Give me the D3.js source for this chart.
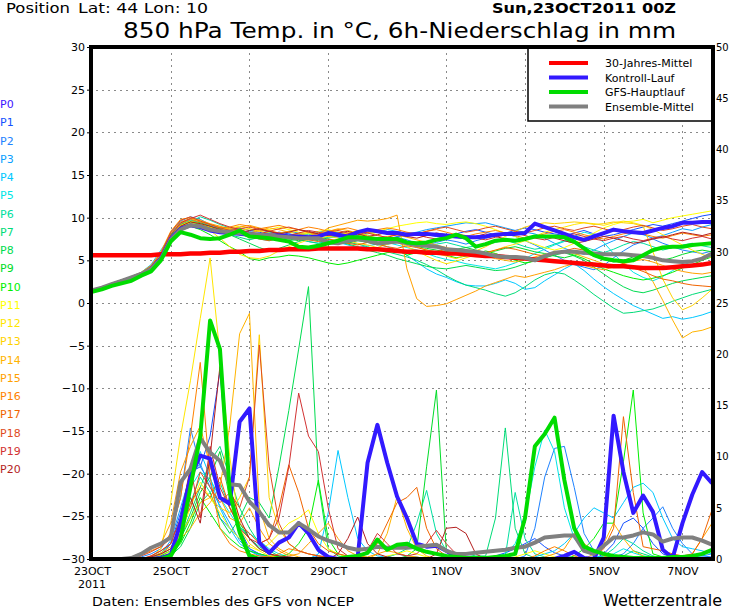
<!DOCTYPE html>
<html><head><meta charset="utf-8">
<script src="https://cdnjs.cloudflare.com/ajax/libs/d3/7.8.5/d3.min.js"></script>
<style>body{margin:0;background:#fff}svg{display:block}</style>
</head><body><svg id="c" width="730" height="609"></svg>
<script>
// ---------- DATA ----------
const hours = d3.range(0, 379, 6); // 6-hourly steps from 23OCT2011 00Z
const tempTicks = [-30,-25,-20,-15,-10,-5,0,5,10,15,20,25,30];
const precipTicks = [0,5,10,15,20,25,30,35,40,45,50];
const dateTickHours = [0,48,96,144,216,264,312,360];
const dateTickLabels = ["23OCT","25OCT","27OCT","29OCT","1NOV","3NOV","5NOV","7NOV"];
const gridHours = [48,96,144,216,264,312,360];
const memberNames = ["P0","P1","P2","P3","P4","P5","P6","P7","P8","P9","P10","P11","P12","P13","P14","P15","P16","P17","P18","P19","P20"];
const memberColors = ["#3c14ff","#1450ff","#1e82ff","#0aa0ff","#00c8ff","#00e6e6","#00e0a0","#00dc78","#00dc50","#00dc28","#00f000","#ffff00","#ffe600","#ffd200","#ffb400","#ffa000","#ff8200","#f06400","#e04b1e","#d23232","#b41e1e"];
const legendLabels = ["30-Jahres-Mittel","Kontroll-Lauf","GFS-Hauptlauf","Ensemble-Mittel"];
const legendColors = ["#ff0000","#3219ff","#00dc00","#808080"];

const climTemp = [5.6,5.6,5.6,5.6,5.6,5.6,5.6,5.7, 5.7,5.7,5.8,5.8,5.9,5.9,6.0,6.0, 6.1,6.1,6.2,6.2,6.3,6.3,6.3,6.4, 6.4,6.4,6.4,6.4,6.3,6.3,6.2,6.1, 6.0,6.0,5.9,5.9,5.8,5.8,5.7,5.6, 5.5,5.5,5.4,5.3,5.2,5.1,5.0,4.9, 4.8,4.7,4.6,4.5,4.4,4.3,4.3,4.2, 4.1,4.1,4.1,4.2,4.3,4.4,4.5,4.7];
const ctrlTemp = [1.4,1.7,2.1,2.5,2.9,3.3,4.0,5.2, 7.5,8.7,9.1,8.9,8.5,8.3,8.2,8.1, 8.0,8.0,7.9,7.9,7.8,7.8,7.7,7.8, 8.2,8.0,7.8,8.3,8.6,8.4,8.2,8.2, 8.0,8.1,8.1,8.0,7.9,7.8,7.7,7.7, 7.8,8.0,8.1,8.1,8.2,9.3,8.9,8.5, 8.1,7.7,7.4,7.8,8.2,8.6,8.4,8.3, 8.2,8.5,8.8,9.0,9.4,9.4,9.5,9.5];
const ctrlPrecip = [0,0,0,0,0,0,0,0.1, 0.4,3.5,8.0,10.1,9.8,6.0,5.4,13.4, 14.7,1.6,0.6,1.6,2.1,3.5,2.5,0.9, 0.2,0,0,0.2,9.4,13.1,9.4,6.1, 4.0,1.5,1.2,1.3,0.8,0.2,0,0, 0,0,0,0,0,0,0,0, 0.3,0.7,0.1,0,2.1,14.0,8.5,4.5, 6.2,4.6,0.9,0.1,3.5,6.3,8.5,7.4];
const gfsTemp = [1.3,1.6,2.0,2.3,2.6,3.2,3.7,5.0, 7.2,8.3,8.0,7.6,7.5,7.6,8.0,8.5, 7.8,7.7,7.6,7.4,7.2,6.6,6.5,6.7, 7.0,7.3,7.7,7.7,7.6,7.5,7.5,7.5, 7.1,7.0,7.1,7.4,7.6,8.0,7.6,6.6, 6.9,7.3,7.4,7.3,7.5,7.8,7.8,7.8, 7.7,7.2,6.4,5.6,5.2,5.0,4.9,5.0, 5.6,6.2,6.5,6.6,6.6,6.8,6.9,7.0];
const gfsPrecip = [0,0,0,0,0,0,0,0, 0.3,2.0,7.0,12.0,23.3,20.5,6.5,2.6, 0.3,0,0,0,0,0,0,0, 0,0,0.2,0.3,0.6,1.9,0.9,1.4, 1.5,1.0,0.7,0.5,0.3,0.2,0.1,0.1, 0.1,0.2,0.3,0.5,4.0,11.0,12.2,13.8, 7.7,3.0,1.2,0.8,0.5,0.3,0.2,0.1, 0.1,0.1,0.1,0.2,0.2,0.3,0.5,0.9];
const meanTemp = [1.5,1.8,2.2,2.6,3.0,3.4,4.0,5.1, 7.4,8.6,9.1,9.0,8.6,8.4,8.3,8.2, 8.1,8.0,7.9,7.8,7.7,7.6,7.6,7.6, 7.1,7.0,7.3,7.5,7.3,7.0,7.1,7.2, 7.0,6.8,6.7,6.6,6.3,6.2,6.1,6.0, 5.8,5.5,5.4,5.4,5.3,5.0,5.5,5.9, 6.0,6.0,5.9,5.8,5.7,5.7,5.7,5.6, 5.5,5.3,5.0,4.9,4.8,4.9,5.2,5.8];
const meanPrecip = [0,0,0,0,0.1,0.5,1.1,1.5, 2.1,7.5,8.8,11.8,10.4,9.6,7.3,7.2, 5.6,4.6,3.3,2.6,2.6,3.5,2.9,2.2, 1.8,1.5,1.1,0.9,1.0,1.2,1.1,1.1, 1.1,1.2,1.3,1.4,0.8,0.5,0.5,0.6, 0.7,0.8,0.9,1.1,1.2,1.6,2.1,2.2, 2.3,2.3,0.8,0.5,1.3,2.1,2.1,2.3, 2.6,2.4,1.7,2.0,2.1,2.1,1.8,1.4];

// thin members P1..P20 (temperature, °C)
const memberTemp = [
[1.4,1.7,2.1,2.5,2.9,3.3,4.0,5.3, 7.8,9.2,9.6,9.3,9.0,8.7,8.6,8.8, 8.5,8.3,8.0,8.3,8.1,7.9,8.2,8.0, 8.1,8.3,8.0,7.9,8.2,8.4,8.1,7.8, 7.9,8.2,8.0,7.8,7.6,8.1,8.4,8.6, 8.3,8.0,8.2,8.5,8.8,8.6,8.3,8.1, 7.9,8.2,8.5,8.1,7.8,8.0,8.3,8.6, 8.9,9.2,9.0,9.3,9.6,9.9,10.2,10.4],
[1.5,1.8,2.2,2.6,3.0,3.5,4.3,5.8, 8.2,9.6,10.1,9.8,9.2,8.8,8.5,8.4, 8.2,8.0,7.7,7.9,8.1,7.8,7.6,7.9, 8.0,7.7,7.5,7.8,7.6,7.3,7.5,7.7, 7.4,7.0,6.8,7.1,7.4,7.2,6.9,7.3, 7.6,7.9,8.1,7.8,7.3,6.8,6.2,5.6, 5.0,4.5,4.2,3.9,4.4,5.3,6.1,6.8, 7.2,7.5,7.0,6.6,6.2,6.0,5.8,6.1],
[1.3,1.6,2.0,2.4,2.7,3.1,3.8,4.9, 7.2,8.6,9.1,9.0,8.7,8.9,8.6,8.2, 8.4,8.6,8.3,8.1,8.4,8.2,8.0,8.3, 8.5,8.2,8.0,7.8,8.1,8.3,8.6,8.4, 8.1,8.3,8.6,8.8,9.0,9.2,9.4,9.3, 9.4,9.1,8.8,8.5,8.3,8.1,7.6,7.0, 6.4,6.0,5.7,6.2,6.8,7.3,7.8,8.2, 8.0,7.6,7.9,8.3,8.7,8.5,8.9,9.2],
[1.4,1.8,2.3,2.7,3.1,3.6,4.5,6.2, 7.9,9.3,9.8,9.4,9.0,8.6,8.2,8.0, 7.8,7.5,7.3,7.6,7.8,7.5,7.2,7.0, 7.3,7.1,6.8,6.5,6.7,6.9,6.6,6.2, 5.6,4.8,4.0,3.4,3.0,2.5,2.1,2.0, 2.0,2.3,2.7,2.3,1.6,1.8,2.6,3.3, 4.0,4.6,3.8,2.8,1.9,1.1,0.4,-0.3, -0.8,-1.3,-1.8,-1.6,-1.9,-1.7,-1.4,-1.0],
[1.5,1.8,2.2,2.6,3.0,3.4,4.2,5.6, 8.0,9.4,9.7,9.5,9.1,8.8,8.4,8.1, 7.9,8.1,8.3,8.0,7.7,7.9,8.1,7.8, 7.6,7.8,7.5,7.3,7.6,7.4,7.1,6.8, 6.5,6.2,5.8,5.4,5.1,4.9,4.6,4.4, 4.2,4.0,4.3,4.7,5.2,5.8,6.3,6.8, 7.2,7.8,8.3,8.0,7.1,5.8,4.6,3.6, 3.0,2.6,3.1,3.8,4.4,4.9,5.2,5.5],
[1.4,1.7,2.1,2.5,2.8,3.2,3.9,5.0, 7.5,8.9,9.5,10.1,9.7,9.2,8.8,8.5, 8.2,8.0,7.8,7.6,7.9,8.1,7.8,7.5, 7.7,7.9,7.6,7.4,7.2,7.5,7.7,7.4, 7.2,7.0,6.7,6.9,7.1,6.8,6.5,6.7, 6.9,7.1,7.4,7.0,6.6,6.3,6.5,6.9, 7.3,7.0,6.6,6.2,5.9,6.3,6.8,7.2, 7.0,6.6,6.2,6.5,6.8,7.0,6.7,6.5],
[1.3,1.6,2.0,2.4,2.8,3.2,3.9,5.1, 7.6,9.0,9.4,9.2,8.8,8.4,8.0,7.7, 7.4,7.7,7.9,7.6,7.3,7.5,7.2,7.0, 7.2,7.4,7.1,6.9,6.6,6.3,6.0,5.7, 5.4,5.0,4.5,3.9,3.2,2.6,2.1,1.8, 1.5,1.1,0.8,1.2,1.9,2.7,3.3,3.6, 3.4,2.7,1.9,1.0,0.2,-0.6,-1.2,-1.1, -0.9,-0.7,-0.3,0.2,0.6,1.0,1.3,1.6],
[1.4,1.8,2.2,2.6,3.0,3.4,4.1,5.4, 7.9,9.2,9.6,9.4,9.0,8.5,8.0,7.5, 7.0,6.5,6.1,6.4,6.8,7.2,7.5,7.3, 7.0,7.2,6.9,6.6,6.2,5.9,5.6,5.2, 4.9,4.6,4.3,4.1,4.0,4.2,4.4,4.2, 4.0,3.8,3.9,4.2,4.6,5.0,5.3,5.6, 5.9,5.5,5.0,4.2,3.4,2.6,1.9,1.4, 1.2,1.5,1.9,2.3,2.6,2.8,3.0,3.2],
[1.5,1.9,2.3,2.7,3.1,3.5,4.2,5.5, 7.7,9.1,9.5,9.2,8.9,8.7,8.3,8.0, 7.8,7.9,8.1,7.8,7.5,7.3,7.5,7.7, 7.5,7.2,7.0,7.3,7.1,6.8,6.9,7.1, 6.9,6.6,6.4,6.2,6.0,6.3,6.5,6.2, 5.9,6.1,6.4,6.6,6.3,6.0,5.8,5.5, 5.3,5.6,5.9,5.5,5.1,4.8,5.0,5.4, 5.7,5.3,5.0,5.3,5.7,6.0,6.2,6.0],
[1.4,1.7,2.1,2.5,2.9,3.4,4.1,5.3, 7.6,8.8,9.0,8.6,8.0,7.3,6.6,6.0, 5.2,5.0,5.3,5.4,5.6,5.5,5.3,5.0, 4.7,4.5,4.7,5.0,5.3,5.6,5.9,6.2, 5.6,5.9,6.2,6.0,5.6,5.3,5.5,5.8, 6.1,5.8,5.4,5.0,4.7,4.9,5.3,5.7, 6.0,5.6,5.2,4.6,4.0,3.6,3.2,2.9, 2.7,2.9,3.2,3.6,4.1,4.5,5.0,5.4],
[1.5,1.8,2.2,2.6,3.0,3.4,4.1,5.4, 7.8,9.0,9.4,9.1,8.7,8.5,8.8,9.0, 8.7,8.4,8.6,8.9,8.6,8.3,8.1,8.4, 8.6,8.3,8.0,7.8,8.1,8.4,8.7,9.0, 9.2,9.4,9.5,9.3,9.2,9.4,9.5,9.3, 9.0,8.6,8.2,7.8,7.3,6.9,6.5,6.2, 6.5,7.0,7.6,8.2,8.8,9.2,9.5,9.6, 9.8,9.4,9.7,10.0,10.2,10.4,10.6,10.8],
[1.4,1.7,2.1,2.4,2.8,3.2,3.8,5.0, 7.4,8.8,9.3,9.1,8.5,7.6,6.6,5.7, 5.3,5.2,5.5,6.1,6.6,7.0,7.4,7.6, 7.8,8.0,8.2,8.5,8.3,8.0,7.6,7.1, 6.6,6.1,5.5,5.0,4.6,4.9,5.3,5.6, 5.8,6.2,6.6,6.9,7.3,7.8,8.3,8.6, 8.9,9.2,9.4,9.3,9.1,9.4,9.6,9.4, 9.1,8.6,8.0,7.4,6.8,6.2,5.7,5.3],
[1.3,1.7,2.1,2.5,2.9,3.3,4.0,5.2, 7.7,9.1,9.6,9.3,8.9,8.6,8.3,8.5, 8.7,8.4,8.2,8.0,7.8,8.1,8.3,8.0, 7.8,7.6,7.3,7.0,6.8,6.5,6.9,7.3, 7.0,6.6,6.2,5.8,5.5,5.2,5.6,6.1, 6.6,7.2,7.8,8.4,8.9,9.2,9.4,9.3, 9.4,9.5,9.4,9.2,9.3,9.5,9.4,9.3, 9.0,6.0,2.8,0.6,-0.8,-0.3,0.6,1.6],
[1.4,1.8,2.2,2.6,3.0,3.5,4.3,5.7, 8.1,9.5,9.9,9.6,9.2,8.9,8.6,8.4, 8.2,8.5,8.8,8.6,8.3,8.1,7.9,8.2, 8.4,8.7,8.5,8.2,7.9,7.6,7.8,8.0, 7.7,7.4,7.1,6.8,6.5,6.2,6.0,5.7, 5.5,5.2,5.0,4.8,5.1,5.4,5.7,5.9, 6.1,5.8,5.4,5.0,4.6,4.3,4.2,4.3, 4.2,2.5,0.3,-2.0,-4.1,-3.4,-3.2,-2.8],
[1.5,1.9,2.3,2.7,3.1,3.6,4.4,6.0, 8.4,9.8,10.0,9.7,9.3,9.0,8.7,8.9, 9.1,8.8,8.5,8.2,8.4,8.6,8.3,8.0, 8.8,9.1,9.4,9.7,9.6,9.7,9.9,10.3, 4.0,0.5,-0.4,-0.3,-0.1,0.4,0.9,1.4, 2.0,2.4,2.8,3.2,3.0,3.3,3.6,3.9, 4.3,4.6,4.4,4.1,3.9,4.2,4.6,4.9, 5.1,4.8,4.4,4.0,3.7,3.5,3.4,3.6],
[1.4,1.7,2.1,2.5,2.9,3.3,4.0,5.2, 7.7,9.3,9.8,9.5,9.2,8.8,8.9,9.2, 9.0,8.7,8.9,9.1,8.8,8.6,8.9,8.7, 8.4,8.6,8.8,8.5,8.3,8.6,8.8,8.6, 8.3,8.1,8.4,8.6,8.3,8.0,7.8,8.1, 8.3,8.5,8.2,7.9,7.6,7.8,8.1,8.4, 8.6,8.3,8.0,7.7,7.5,7.8,8.1,8.3, 8.1,7.8,7.6,7.9,8.2,8.0,7.8,8.0],
[1.3,1.6,2.0,2.4,2.8,3.2,3.9,5.0, 7.3,8.7,9.2,9.0,8.7,8.5,8.2,8.0, 7.8,7.5,7.3,7.6,7.9,7.7,7.4,7.2, 7.5,7.3,7.0,6.8,7.1,6.9,6.6,6.4, 6.7,6.5,6.2,6.0,6.3,6.1,5.8,5.6, 5.9,6.2,6.5,6.3,6.0,5.7,5.5,5.8, 6.1,6.4,6.2,5.8,5.3,5.0,4.6,4.1, 3.7,3.2,2.8,2.6,2.3,2.1,2.0,1.9],
[1.5,1.9,2.3,2.7,3.1,3.5,4.3,5.8, 8.3,9.7,10.1,9.6,9.2,8.8,8.5,8.7, 8.9,8.6,8.4,8.7,8.9,8.6,8.3,8.1, 8.3,8.5,8.2,8.0,8.3,8.5,8.3,8.0, 7.8,8.1,8.4,8.7,8.9,8.6,8.3,8.5, 8.8,9.0,8.7,8.4,8.2,8.5,8.8,9.0, 8.7,8.5,8.8,9.0,8.7,8.4,8.6,8.9, 9.1,8.8,8.5,8.7,9.0,9.2,8.9,8.7],
[1.4,1.8,2.2,2.6,3.0,3.4,4.1,5.5, 8.0,9.4,9.9,10.3,9.8,9.3,8.9,8.6, 8.3,8.1,8.4,8.2,7.9,8.2,8.5,8.3, 8.0,7.8,8.1,8.4,8.2,7.9,7.7,8.0, 8.2,8.0,7.7,7.5,7.8,8.1,7.9,7.6, 7.4,7.7,8.0,8.2,7.9,7.6,7.4,7.7, 7.9,8.1,7.8,7.5,7.3,7.6,7.8,7.5, 7.3,7.6,7.8,7.5,7.3,7.6,7.8,7.5],
[1.3,1.7,2.1,2.5,2.8,3.2,3.9,5.1, 7.6,9.0,9.5,9.3,9.0,8.6,8.4,8.2, 8.5,8.7,8.4,8.1,8.3,8.6,8.4,8.1, 7.9,8.2,8.4,8.1,7.8,8.0,8.3,8.1, 7.8,7.6,7.9,8.2,8.0,7.7,7.5,7.8, 8.1,7.8,7.5,7.2,7.4,7.7,7.9,7.6, 7.3,7.0,7.2,7.5,7.8,7.6,7.3,7.0, 7.2,7.5,7.7,8.0,8.3,8.1,7.9,8.2]
];
// thin members P1..P20 (6h precipitation, mm)
const memberPrecip = [
[0,0,0,0,0,0,0.1,0.3, 1.5,4.5,8.5,9.0,12.0,18.3,7.0,3.0, 1.0,0.5,0.2,0.1,0,0,0,0, 0,0,0,0,0,0,0,0, 0,0,0,0,0.1,0.2,0.3,0.2, 0.1,0.3,0.6,1.0,1.5,2.0,1.2,0.6, 0.3,0.1,0,0,0.5,1.5,3.5,4.0, 3.0,1.5,0.5,0.2,0.1,0,0,0],
[0,0,0,0,0,0.2,0.5,1.0, 2.5,6.0,12.8,9.0,7.5,4.0,3.0,2.0, 1.0,0.5,0.2,0,0,0,0,0.3, 0.2,0,0,0,0,0,0,0, 0,0,0,0,0,0,0,0, 0,0,0,0,0.3,3.0,8.0,10.8, 11.0,7.0,2.5,0.8,0.3,0.2,0.5,1.5, 3.0,4.0,5.1,3.0,1.5,0.5,0.3,0.2],
[0,0,0,0,0,0,0.2,0.5, 1.8,5.0,8.2,9.3,7.0,5.2,3.5,1.8, 0.8,0.3,0.1,0,0,0,0,0, 0,0,0,0,0,0,0,0, 0,0,0,0,0,0,0,0, 0,0,0,0,0,0,0,0, 0,0,0,0,0,0,0,0, 0,0,0,0,0,0.2,0.3,0.5],
[0,0,0,0,0,0,0.1,0.4, 1.0,3.5,7.5,10.5,8.0,5.0,3.0,1.5, 0.8,0.4,0.2,0,0,0,0,0.5, 4.5,10.6,6.0,2.0,0.8,0.3,0.2,0.5, 0.3,0.2,0,0,0,0,0,0, 0,0,0,0,0,0.2,0.5,0.8, 1.5,2.5,4.0,5.0,4.5,4.0,5.5,7.0, 7.4,6.5,4.0,2.0,1.2,1.0,0.8,0.5],
[0,0,0,0,0,0,0.2,0.6, 1.5,4.0,7.0,8.5,7.8,6.0,4.5,3.0, 2.5,1.8,1.0,0.5,0.2,0,0,0, 0,0,0,0,0,0,0,0, 0,0,0,0,0,0,0,0, 0,0.2,0.5,1.5,4.0,9.0,12.6,10.5, 5.0,2.0,0.8,0.3,0.2,0.5,1.0,0.6, 0.3,0.2,0,0,0,0,0,0],
[0,0,0,0,0,0,0.1,0.3, 0.8,2.5,5.5,8.0,6.5,7.5,5.0,3.2, 2.0,1.2,0.5,0.2,0,0,0,0, 0,0,0,0,0,0,0.2,0.5, 1.0,3.5,6.7,2.5,0.8,0.3,0.2,0.1, 0,0,0.3,6.5,2.0,0.5,0.2,0, 0,0,0,0,0.3,1.0,2.0,1.5, 0.8,0.3,0.1,0,0,0,0,0],
[0,0,0,0,0,0,0,0.2, 0.6,2.0,4.5,7.0,9.5,11.0,8.0,5.0, 3.0,1.5,0.8,0.3,0.1,0,0,0, 0,0,0,0,0,0,0,0, 0,0,0,0,0,0.2,0.5,0.3, 0.3,4.0,12.8,3.0,0.5,0.1,0,0, 0,0,0,0,0,0,0.3,0.8, 0.5,0.2,0,0,0,0,0,0],
[0,0,0,0,0,0,0,0.1, 0.3,1.2,3.0,5.5,6.5,4.0,2.5,4.0, 6.0,5.5,4.0,9.0,14.5,20.5,26.6,7.5, 1.0,0.3,0.1,0,0,0,0,0, 0,0,0,0,0,0,0,0, 0,0,0,0,0,0,0,0, 0,0,0,0,0,0,0,0, 0,0,0,0,0,0,0,0],
[0,0,0,0,0,0,0.1,0.3, 0.8,2.0,4.0,6.5,8.0,10.5,6.0,3.5, 2.0,1.0,0.5,0.2,0,0,0,0, 0,0,0,0,0,0,0,0, 0.3,1.0,9.0,16.5,0.8,0.3,0.1,0, 0,0,0,0,0,0,0,0, 0,0,0,0,0,0,0,0, 0,0,0,0,0,0,0,0],
[0,0,0,0,0,0,0,0.1, 0.5,1.5,3.5,6.0,4.5,3.0,2.0,1.2, 0.8,0.5,0.3,0.2,0.5,1.5,3.0,7.7, 2.0,0.5,0.2,0,0,0,0,0, 0,0,0,0,0,0,0,0, 0,0,0,0,0,0,0,0, 0,0.3,1.0,2.0,3.5,3.5,9.5,16.5, 4.5,0.5,0.2,0,0,0,0,0],
[0,0,0,0,0,0,0,0.2, 0.8,2.5,5.0,7.5,6.0,4.5,3.0,2.0, 1.2,0.8,1.5,2.5,3.5,4.0,4.8,2.5, 1.0,0.5,0.2,0,0,0,0.3,0.5, 0.8,0.5,0.2,0,0,0,0,0, 0,0,0,0.2,0.5,0.8,0.5,0.2, 0,0,0,0,0,0,0,0, 0,0,0,0,0,0,0,0],
[0,0,0,0,0,0,0.2,1.0, 5.5,12.0,17.4,23.5,29.4,20.0,10.0,3.0, 1.5,0.8,0.3,0.1,0,0,0,0, 0,0,0,0,0,0,0,0, 0,0,0,0,0,0,0,0, 0,0,0,0,0,0,0,0, 0,0,0,0,0,0,0,0, 0,0,0,0,0,0,0,0],
[0,0,0,0,0,0,0.1,0.4, 1.0,2.5,4.0,5.5,6.0,5.0,4.5,6.0, 8.0,21.9,6.0,3.0,1.5,0.8,0.5,0.3, 0.1,0,0,0,0,0,0,0, 0,0,0,0,0,0,0,0, 0,0,0,0,0,0,0,0, 0,0,0,0,0,0,0,0, 0,0,0,0,0,0,0,0],
[0,0,0,0,0,0,0.2,0.6, 1.2,2.0,3.0,4.5,5.5,7.0,13.0,22.0, 24.0,5.0,2.0,1.0,0.5,0.2,0,0, 0,0,0,0,0,0.5,2.5,6.1, 3.0,1.0,0.3,0,0,0,0,0, 0,0,0,0,0,0,0,0, 0,0,0,0.5,1.5,3.5,2.0,0.8, 0.3,0,0,0,0,0,0,0],
[0,0,0,0,0.2,0.6,1.0,1.5, 3.5,8.5,11.0,13.0,9.0,6.0,4.0,3.5, 5.0,3.0,1.5,0.8,0.3,0.5,1.5,2.5, 3.5,2.0,0.8,0.3,0.2,0.5,0.8,0.6, 0.3,0.2,0,0,0,0,0,0, 0,0,0,0,0,0,0.2,0.5, 1.0,2.5,1.5,0.8,0.3,0,0,0, 0,0,0,0,0,0.5,2.0,3.5],
[0,0,0,0,0.1,0.4,0.8,1.2, 2.5,6.0,12.0,19.2,8.0,3.0,1.5,0.8, 0.5,0.3,0.2,0.5,1.0,0.8,0.5,0.3, 0.1,0,0,0,0,0,0,0, 0,0,0,0,0,0,0,0, 0,0,0,0,0,0.3,0.8,1.2, 0.8,0.3,0,0,0,0,0,0, 0,0,0,0,0,0,0,0],
[0,0,0,0,0,0,0.3,0.8, 1.5,3.0,5.5,7.0,6.0,8.0,5.0,3.5, 2.5,1.5,2.0,5.0,9.2,6.5,3.0,1.5, 0.8,0.5,0.3,0.2,0.5,1.5,3.5,5.5, 6.0,7.0,3.0,1.0,0.3,0,0,0, 0,0,0,0,0,0,0,0, 0,0,0,0.2,1.0,3.0,13.9,6.5, 1.2,1.0,0.8,0.5,0.3,0.5,2.0,4.8],
[0,0,0,0,0,0.3,0.7,1.2, 2.0,3.5,5.0,8.5,7.0,5.5,6.5,5.0, 8.0,20.9,9.0,3.5,1.5,0.8,0.5,0.3, 0.2,0,0,0,0,0,0,0, 0,0,0,0,0,0,0,0, 0,0,0,0,0,0,0,0, 0,0,0,0,0,0,0,0, 0,0,0,0,0,0,0,0],
[0,0,0,0,0,0,0.3,0.8, 1.5,4.0,9.0,4.0,11.0,7.0,5.0,3.0, 2.0,1.5,2.0,4.0,9.0,16.2,12.0,10.5, 5.0,1.0,0.3,0.2,0.8,2.5,1.5,0.5, 0.3,0.5,1.5,2.8,1.5,0.5,0.2,0, 0,0,0,0,0,0,0,0, 0,0,0,0,0,0,0,0, 0,0,0,0,0,0,0,0],
[0,0,0,0,0,0,0.2,0.5, 1.0,3.0,6.0,3.5,10.0,18.8,7.0,4.0, 2.0,1.0,0.5,0.3,0.2,0.1,0,0, 0,0.5,2.0,4.1,1.5,0.5,0.2,0.1, 0,0,0,0.5,3.0,3.1,2.5,0.5, 0,0,0,0,0,0,0,0, 0,0,0,0,0,0,0,0, 0,0,0,0,0,0,0,0]
];

// ---------- DRAW ----------
const W = 730, H = 609;
const L = 92, R = 712, T = 47, B = 559;
const svg = d3.select("#c");
const FONT = "DejaVu Sans, Liberation Sans, sans-serif";
svg.append("rect").attr("width", W).attr("height", H).attr("fill", "#fff");

const x = d3.scaleLinear().domain([0, 378]).range([L, R]);
const yT = d3.scaleLinear().domain([-30, 30]).range([B, T]);
const yP = d3.scaleLinear().domain([0, 50]).range([B, T]);

svg.append("defs").append("clipPath").attr("id", "clip")
  .append("rect").attr("x", L).attr("y", T).attr("width", R - L).attr("height", B - T);

// grid
const grid = svg.append("g").attr("stroke", "#8a8a8a").attr("stroke-width", 1).attr("stroke-dasharray", "2,4");
grid.selectAll("line.h").data(tempTicks.filter(t => t > -30 && t < 30)).join("line")
  .attr("x1", L + 4).attr("x2", R).attr("y1", d => Math.round(yT(d)) + 0.5).attr("y2", d => Math.round(yT(d)) + 0.5);
grid.selectAll("line.v").data(gridHours).join("line")
  .attr("x1", d => Math.round(x(d)) + 0.5).attr("x2", d => Math.round(x(d)) + 0.5).attr("y1", T).attr("y2", B);

const plot = svg.append("g").attr("clip-path", "url(#clip)");
const lineT = d3.line().x((d, i) => x(hours[i])).y(d => yT(d));
const lineP = d3.line().x((d, i) => x(hours[i])).y(d => yP(d));

// thin members
memberTemp.forEach((s, k) => {
  plot.append("path").attr("d", lineT(s)).attr("fill", "none")
    .attr("stroke", memberColors[k + 1]).attr("stroke-width", 1);
});
memberPrecip.forEach((s, k) => {
  plot.append("path").attr("d", lineP(s)).attr("fill", "none")
    .attr("stroke", memberColors[k + 1]).attr("stroke-width", 1);
});

// thick lines
function thick(gen, data, color, w) {
  plot.append("path").attr("d", gen(data)).attr("fill", "none").attr("stroke", color)
    .attr("stroke-width", w).attr("stroke-linejoin", "round");
}
thick(lineT, climTemp, legendColors[0], 4.5);
thick(lineT, ctrlTemp, legendColors[1], 4);
thick(lineP, ctrlPrecip, legendColors[1], 4);
thick(lineT, meanTemp, legendColors[3], 4);
thick(lineP, meanPrecip, legendColors[3], 4);
thick(lineT, gfsTemp, legendColors[2], 4);
thick(lineP, gfsPrecip, legendColors[2], 4);

// legend
const lg = svg.append("g");
lg.append("rect").attr("x", 528).attr("y", T).attr("width", R - 528).attr("height", 121 - T)
  .attr("fill", "#fff").attr("stroke", "#000").attr("stroke-width", 1.5);
legendLabels.forEach((t, i) => {
  const yy = 63 + i * 14.5;
  lg.append("line").attr("x1", 549).attr("x2", 588).attr("y1", yy).attr("y2", yy)
    .attr("stroke", legendColors[i]).attr("stroke-width", 4);
  lg.append("text").attr("x", 605).attr("y", yy + 4).attr("font-family", FONT).attr("font-size", 11)
    .attr("fill", "#000").text(t);
});

// frame
svg.append("rect").attr("x", L - 1).attr("y", T).attr("width", R - L + 2).attr("height", B - T)
  .attr("fill", "none").attr("stroke", "#000").attr("stroke-width", 4);

// axes
const axL = svg.append("g").attr("transform", `translate(${L - 2},0)`)
  .call(d3.axisLeft(yT).tickValues(tempTicks).tickSize(3).tickPadding(2).tickFormat(d => d < 0 ? "\u2212" + (-d) : d));
const axR = svg.append("g").attr("transform", `translate(${R + 1},0)`)
  .call(d3.axisRight(yP).tickValues(precipTicks).tickSize(2).tickPadding(1));
const axB = svg.append("g").attr("transform", `translate(0,${B + 1})`)
  .call(d3.axisBottom(x).tickValues(dateTickHours).tickSize(0).tickPadding(7).tickFormat((d, i) => dateTickLabels[i]));
[axL, axR, axB].forEach(a => {
  a.select(".domain").remove();
  a.selectAll("text").attr("font-family", FONT).attr("font-size", 11).attr("fill", "#000");
  a.selectAll("line").attr("stroke", "#000");
});
axR.selectAll("text").attr("font-size", 10);
svg.append("text").attr("x", x(0)).attr("y", 588).attr("text-anchor", "middle")
  .attr("font-family", FONT).attr("font-size", 11).text("2011");

// member labels
svg.append("g").selectAll("text").data(memberNames).join("text")
  .attr("x", 0).attr("y", (d, i) => 108 + i * 18.25)
  .attr("font-family", FONT).attr("font-size", 11).attr("fill", (d, i) => memberColors[i]).text(d => d);

// titles
svg.append("text").attr("x", 6).attr("y", 13).attr("font-family", FONT).attr("font-size", 14)
  .attr("textLength", 64).attr("lengthAdjust", "spacingAndGlyphs").text("Position");
svg.append("text").attr("x", 78).attr("y", 13).attr("font-family", FONT).attr("font-size", 14)
  .attr("textLength", 130).attr("lengthAdjust", "spacingAndGlyphs").text("Lat: 44 Lon: 10");
svg.append("text").attr("x", 492).attr("y", 13).attr("font-family", FONT).attr("font-size", 14).attr("font-weight", "bold")
  .attr("textLength", 184).attr("lengthAdjust", "spacingAndGlyphs").text("Sun,23OCT2011 00Z");
svg.append("text").attr("x", 123).attr("y", 38).attr("font-family", FONT).attr("font-size", 22)
  .attr("textLength", 553).attr("lengthAdjust", "spacingAndGlyphs").text("850 hPa Temp. in °C, 6h-Niederschlag in mm");
svg.append("text").attr("x", 92).attr("y", 606).attr("font-family", FONT).attr("font-size", 13)
  .attr("textLength", 262).attr("lengthAdjust", "spacingAndGlyphs").text("Daten: Ensembles des GFS von NCEP");
svg.append("text").attr("x", 603).attr("y", 606).attr("font-family", FONT).attr("font-size", 15)
  .attr("textLength", 119).attr("lengthAdjust", "spacingAndGlyphs").text("Wetterzentrale");
</script></body></html>
